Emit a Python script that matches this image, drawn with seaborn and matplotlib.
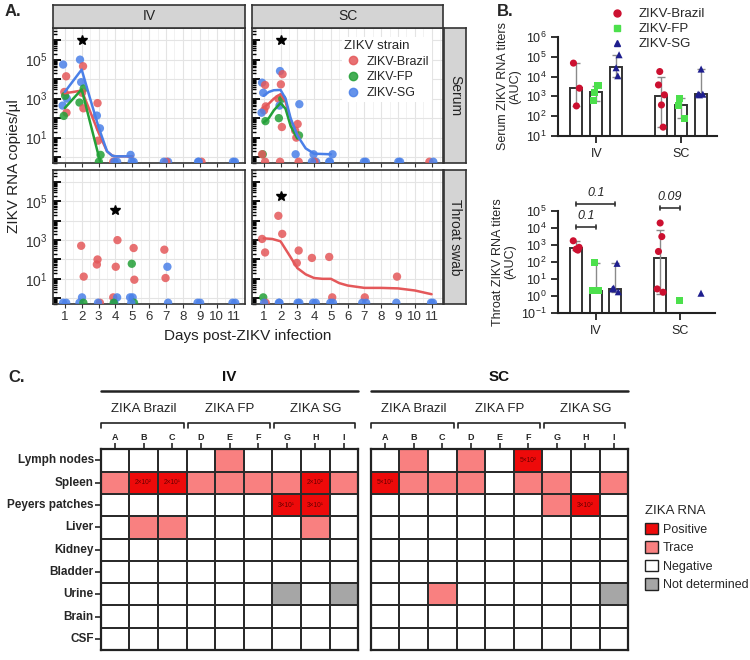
import numpy as np
import pandas as pd
import matplotlib
matplotlib.use('Agg')
import matplotlib.pyplot as plt
import seaborn as sns
from matplotlib.colors import ListedColormap
from matplotlib.patches import Patch
from matplotlib.lines import Line2D
from matplotlib.ticker import LogLocator, FuncFormatter, NullFormatter, MultipleLocator, NullLocator

# ---------------- data: panel A (RNA copies per day) ----------------
strains = ['ZIKV-Brazil', 'ZIKV-FP', 'ZIKV-SG']
code_name = {'R': 'ZIKV-Brazil', 'G': 'ZIKV-FP', 'B': 'ZIKV-SG'}

iv_serum_day = [1]*8 + [2]*7 + [3]*6 + [4]*3 + [5]*3 + [7]*3 + [9]*3 + [11]*2
iv_serum_strain = 'BRRBGBRG' + 'BRBGRGR' + 'RBBRGG' + 'RBB' + 'BBB' + 'BRB' + 'RBB' + 'BB'
iv_serum_val = [5.6e4, 1.4e4, 2200, 1000, 1400, 440, 190, 130,
                1e5, 4.6e4, 7000, 3300, 2000, 630, 320,
                590, 135, 30, 7, 1.3, 0,
                0, 0, 0, 1.3, 0, 0, 0, 0, 0, 0, 0, 0, 0, 0]

sc_serum_day = [1]*10 + [2]*9 + [3]*7 + [4]*4 + [5]*3 + [7]*2 + [9]*2 + [11]*2
sc_serum_strain = 'BRBRRBGGRR' + 'BRRRGBGRR' + 'BRRGRBR' + 'BBRB' + 'BBB' + 'BB' + 'BB' + 'RB'
sc_serum_val = [6600, 5000, 2000, 400, 250, 190, 70, 1.4, 1.4, 0,
                2.6e4, 1.8e4, 5400, 1000, 1000, 440, 100, 35, 0,
                520, 50, 23, 13, 10, 1.4, 0,
                1.4, 0, 0, 0, 1.4, 0, 0, 0, 0, 0, 0, 0, 0]

iv_throat_day = [1]*2 + [2]*5 + [3]*4 + [4]*6 + [5]*7 + [7]*4 + [9]*2 + [11]*2
iv_throat_strain = 'BB' + 'RRBBG' + 'RRRB' + 'RRRBBG' + 'RGRBBGB' + 'RBRB' + 'BB' + 'BB'
iv_throat_val = [0, 0,
                 510, 13, 1.1, 0, 0,
                 100, 55, 0, 0,
                 1000, 42, 1.1, 1.1, 0, 0,
                 390, 60, 9, 1.1, 1.1, 0, 0,
                 320, 42, 11, 0, 0, 0, 0, 0]

sc_throat_day = [1]*5 + [2]*4 + [3]*4 + [4]*3 + [5]*4 + [7]*3 + [9]*2 + [11]*2
sc_throat_strain = 'RRGRB' + 'RRBB' + 'RRBB' + 'RBB' + 'RRBB' + 'RBB' + 'RB' + 'BB'
sc_throat_val = [1150, 230, 1.1, 0, 0,
                 1.8e4, 2100, 0, 0,
                 290, 66, 0, 0,
                 120, 0, 0,
                 135, 1.1, 0, 0,
                 1.1, 0, 0, 13, 0, 0, 0]

# smoothed trend lines
fit_iv_serum_brazil_day = [1, 1.5, 2, 2.5, 3, 3.5, 3.8, 4, 5]
fit_iv_serum_brazil_val = [1900, 2200, 2600, 220, 18, 2.0, 1.2, 1.1, 1.1]
fit_iv_serum_fp_day = [1, 1.5, 2, 2.5, 3, 3.1]
fit_iv_serum_fp_val = [330, 1000, 3000, 60, 1.2, 0.6]
fit_iv_serum_sg_day = [1, 1.5, 2, 2.5, 3, 3.5, 3.8, 4, 5]
fit_iv_serum_sg_val = [2200, 8300, 3.1e4, 1000, 35, 2.0, 1.2, 1.1, 1.1]

fit_sc_serum_brazil_day = [1, 1.3, 1.6, 2, 2.3, 2.6, 3]
fit_sc_serum_brazil_val = [350, 550, 1000, 1700, 700, 80, 15]
fit_sc_serum_fp_day = [1, 1.3, 1.6, 2, 2.3, 2.6, 3]
fit_sc_serum_fp_val = [60, 100, 250, 600, 300, 40, 9]
fit_sc_serum_sg_day = [1, 1.3, 1.6, 2, 2.3, 2.6, 3, 3.5, 4, 5]
fit_sc_serum_sg_val = [1400, 2200, 2700, 2800, 1000, 100, 13, 2.8, 1.5, 1.4]

fit_sc_throat_brazil_day = [1, 1.5, 2, 2.5, 3, 3.5, 4, 4.5, 5, 5.5, 6, 7, 8, 9, 10, 11]
fit_sc_throat_brazil_val = [1230, 1150, 870, 180, 36, 17, 11, 10, 10, 6, 4.5, 3.4, 3.4, 3.2, 2.5, 1.6]

# significance stars (day, height)
star_iv_serum = (2, 1e6)
star_sc_serum = (2, 1e6)
star_iv_throat = (4, 3.5e4)
star_sc_throat = (2, 1.8e5)

# ---------------- data: panel B (AUC) ----------------
routes = ['IV', 'SC']
serum_bar = [2600, 1600, 3e4, 1100, 380, 1300]
serum_lo = [310, 620, 1e4, 28, 80, 1100]
serum_hi = [4.8e4, 3400, 1.27e5, 9300, 810, 2.4e4]
serum_pt_route = ['IV']*9 + ['SC']*12
serum_pt_strain = 'RRRGGGBBB' + 'RRRRRGGGBBBB'
serum_pt_val = [4.8e4, 2600, 330, 3400, 1500, 650, 1.27e5, 2.8e4, 1.1e4,
                1.8e4, 3800, 1200, 370, 28, 820, 330, 80, 2.4e4, 1300, 1200, 1300]

throat_bar = [650, 2, 2.5, 170, np.nan, np.nan]
throat_lo = [480, 2, 1.7, 1.2, np.nan, np.nan]
throat_hi = [1700, 85, 80, 7000, np.nan, np.nan]
throat_pt_route = ['IV']*12 + ['SC']*7
throat_pt_strain = 'RRRRGGGGBBBB' + 'RRRRRGB'
throat_pt_val = [1700, 700, 550, 480, 85, 2, 2, 2, 80, 2.8, 2.5, 1.7,
                 1.9e4, 3000, 400, 2.5, 1.6, 0.5, 1.4]
# (route, first bar, second bar, label, bracket height)
throat_sig = [('IV', 0, 1, '0.1', 1.1e4), ('IV', 0, 2, '0.1', 2.5e5), ('SC', 0, 1, '0.09', 1.4e5)]

# ---------------- data: panel C (tissue RNA) ----------------
tissues = ['Lymph nodes', 'Spleen', 'Peyers patches', 'Liver', 'Kidney',
           'Bladder', 'Urine', 'Brain', 'CSF']
animals = list('ABCDEFGHI')
groups = ['ZIKA Brazil', 'ZIKA FP', 'ZIKA SG']
# N negative, T trace, P positive, X not determined
iv_status = ['NNNNTNNNN', 'TPPTTTTPT', 'NNNNNNPPN', 'NTTNNNNTN', 'NNNNNNNNN',
             'NNNNNNNNN', 'NNNNNNXNX', 'NNNNNNNNN', 'NNNNNNNNN']
sc_status = ['NTNTNPNNN', 'PTTTNTTNT', 'NNNNNNTPN', 'NNNNNNNNN', 'NNNNNNNNN',
             'NNNNNNNNN', 'NNTNNNNNX', 'NNNNNNNNN', 'NNNNNNNNN']
iv_titer = {(1, 1): '2×10²', (1, 2): '2×10¹', (1, 7): '2×10²', (2, 6): '3×10¹', (2, 7): '3×10¹'}
sc_titer = {(0, 5): '5×10²', (1, 0): '5×10¹', (2, 7): '3×10²'}

# ---------------- style ----------------
sns.set_style('ticks')
plt.rcParams['font.family'] = ['Liberation Sans', 'DejaVu Sans']
plt.rcParams['mathtext.fontset'] = 'custom'
plt.rcParams['mathtext.rm'] = 'Liberation Sans'
plt.rcParams['mathtext.it'] = 'Liberation Sans:italic'
plt.rcParams['mathtext.bf'] = 'Liberation Sans:bold'

pal_a = {'ZIKV-Brazil': '#E4585A', 'ZIKV-FP': '#23A037', 'ZIKV-SG': '#4A80E8'}
pal_b = {'ZIKV-Brazil': '#CC1030', 'ZIKV-FP': '#4CE04C', 'ZIKV-SG': '#1E1E8E'}
mk_b = {'ZIKV-Brazil': 'o', 'ZIKV-FP': 's', 'ZIKV-SG': '^'}
LOD = 0.58
jit = [-0.1, 0.08, -0.03, 0.12, 0.02, -0.13, 0.1, -0.06]

W, H = 750, 660
fig = plt.figure(figsize=(7.5, 6.6), dpi=100)


def box(x0, y0, x1, y1):
    return [x0 / W, 1 - y1 / H, (x1 - x0) / W, (y1 - y0) / H]


def odd_decades(v, pos):
    e = int(round(np.log10(v)))
    return f'$10^{{{e}}}$' if e in (1, 3, 5) else ''


def timecourse(ax, day, code, val, fits, star, show_x, show_y):
    df = pd.DataFrame({'day': day, 'strain': [code_name[c] for c in code], 'value': val})
    df['y'] = df['value'].where(df['value'] > 0, LOD)
    df['x'] = df['day'] + [jit[i % len(jit)] for i in range(len(df))]
    ax.set_yscale('log')
    sns.scatterplot(data=df, x='x', y='y', hue='strain', hue_order=strains, palette=pal_a,
                    s=36, alpha=0.85, edgecolor='none', legend=False, ax=ax, zorder=3)
    if fits:
        fit_df = pd.concat([pd.DataFrame({'day': d, 'value': v, 'strain': s}) for d, v, s in fits])
        sns.lineplot(data=fit_df, x='day', y='value', hue='strain', palette=pal_a,
                     estimator=None, sort=False, lw=1.8, legend=False, ax=ax, zorder=4)
    ax.plot([star[0]], [star[1]], marker='*', color='k', ms=7, ls='none', zorder=5)
    ax.set_ylim(0.5, 4.2e6)
    ax.set_xlim(0.3, 11.68)
    ax.set_xticks(range(1, 12))
    ax.xaxis.set_minor_locator(MultipleLocator(0.5))
    ax.yaxis.set_major_locator(LogLocator(base=10, numticks=12))
    ax.yaxis.set_minor_locator(LogLocator(base=10, subs=np.arange(2, 10), numticks=12))
    ax.yaxis.set_major_formatter(FuncFormatter(odd_decades))
    ax.yaxis.set_minor_formatter(NullFormatter())
    ax.grid(which='major', color='#E4E4E4', lw=0.8)
    ax.grid(which='minor', axis='x', color='#F0F0F0', lw=0.6)
    ax.set_axisbelow(True)
    ax.tick_params(axis='y', which='major', direction='in', length=6, width=1.3, color='k',
                   labelsize=10, labelcolor='#333', pad=4, left=True, labelleft=show_y)
    ax.tick_params(axis='y', which='minor', direction='in', length=3, width=1, color='k', left=True)
    ax.tick_params(axis='x', which='major', direction='out', length=3, color='#333',
                   labelsize=9.5, labelcolor='#333', bottom=True, labelbottom=show_x, pad=2)
    ax.tick_params(axis='x', which='minor', length=0)
    ax.set_xlabel('')
    ax.set_ylabel('')
    for sp in ax.spines.values():
        sp.set_visible(True)
        sp.set_color('#333')
        sp.set_linewidth(1.2)


def strip(rect, text, rot=0):
    s = fig.add_axes(box(*rect))
    s.set_facecolor('#D4D4D4')
    s.set_xticks([])
    s.set_yticks([])
    for sp in s.spines.values():
        sp.set_visible(True)
        sp.set_color('#333')
        sp.set_linewidth(1.2)
    s.text(0.5, 0.5, text, rotation=rot, ha='center', va='center', fontsize=10, color='#222',
           transform=s.transAxes)


# ---------------- panel A ----------------
ax1 = fig.add_axes(box(53, 28, 245, 163))
timecourse(ax1, iv_serum_day, iv_serum_strain, iv_serum_val,
           [(fit_iv_serum_brazil_day, fit_iv_serum_brazil_val, 'ZIKV-Brazil'),
            (fit_iv_serum_fp_day, fit_iv_serum_fp_val, 'ZIKV-FP'),
            (fit_iv_serum_sg_day, fit_iv_serum_sg_val, 'ZIKV-SG')],
           star_iv_serum, False, True)
ax2 = fig.add_axes(box(252, 28, 443, 163))
timecourse(ax2, sc_serum_day, sc_serum_strain, sc_serum_val,
           [(fit_sc_serum_brazil_day, fit_sc_serum_brazil_val, 'ZIKV-Brazil'),
            (fit_sc_serum_fp_day, fit_sc_serum_fp_val, 'ZIKV-FP'),
            (fit_sc_serum_sg_day, fit_sc_serum_sg_val, 'ZIKV-SG')],
           star_sc_serum, False, False)
ax3 = fig.add_axes(box(53, 170, 245, 304))
timecourse(ax3, iv_throat_day, iv_throat_strain, iv_throat_val, [], star_iv_throat, True, True)
ax4 = fig.add_axes(box(252, 170, 443, 304))
timecourse(ax4, sc_throat_day, sc_throat_strain, sc_throat_val,
           [(fit_sc_throat_brazil_day, fit_sc_throat_brazil_val, 'ZIKV-Brazil')],
           star_sc_throat, True, False)

strip((53, 5, 245, 28), 'IV')
strip((252, 5, 443, 28), 'SC')
strip((444, 28, 466, 163), 'Serum', 270)
strip((444, 170, 466, 304), 'Throat swab', 270)

handles_a = [Line2D([], [], marker='o', ls='none', color=pal_a[s], ms=6, alpha=0.85) for s in strains]
leg = ax2.legend(handles_a, strains, title='ZIKV strain', loc='upper left',
                 bbox_to_anchor=(0.47, 0.93), fontsize=9, title_fontsize=9.5, frameon=True,
                 framealpha=1, edgecolor='none', handletextpad=0.4, labelspacing=0.3,
                 borderpad=0.2, borderaxespad=0.0, handlelength=1.4, alignment='left')
leg.set_zorder(10)

fig.text(14 / W, 1 - 166 / H, 'ZIKV RNA copies/µl', rotation=90, ha='center', va='center',
         fontsize=11, color='#222')
fig.text(248 / W, 1 - 336 / H, 'Days post-ZIKV infection', ha='center', va='center',
         fontsize=11, color='#222')


# ---------------- panel B ----------------
def auc_panel(ax, bar_vals, lo, hi, pt_route, pt_code, pt_val, ylim, ylabel):
    bars = pd.DataFrame({'route': np.repeat(routes, 3), 'strain': strains * 2, 'auc': bar_vals})
    sns.barplot(data=bars, x='route', y='auc', hue='strain', order=routes, hue_order=strains,
                palette={s: 'white' for s in strains}, edgecolor='#333', linewidth=1.4,
                width=0.7, gap=0.4, errorbar=None, legend=False, ax=ax)
    ax.set_yscale('log')
    slot = 0.7 / 3
    xs = [routes.index(r) + (strains.index(s) - 1) * slot for r, s in zip(bars['route'], bars['strain'])]
    b = np.array(bar_vals, dtype=float)
    ax.errorbar(xs, b, yerr=[b - np.array(lo), np.array(hi) - b], fmt='none', ecolor='#8a8a8a',
                elinewidth=1, capsize=3, capthick=1, zorder=3)
    pts = pd.DataFrame({'route': pt_route, 'strain': [code_name[c] for c in pt_code], 'value': pt_val})
    pts['x'] = [routes.index(r) + (strains.index(s) - 1) * slot + [-0.035, 0.035, 0.0, 0.02, -0.02][i % 5]
                for i, (r, s) in enumerate(zip(pts['route'], pts['strain']))]
    sns.scatterplot(data=pts, x='x', y='value', hue='strain', style='strain', hue_order=strains,
                    style_order=strains, palette=pal_b, markers=mk_b, s=26, edgecolor='none',
                    legend=False, ax=ax, zorder=4)
    ax.set_xlim(-0.45, 1.42)
    ax.set_ylim(*ylim)
    ax.set_xticks([0, 1])
    ax.set_xticklabels(routes)
    ax.yaxis.set_major_locator(LogLocator(base=10, numticks=12))
    ax.yaxis.set_minor_locator(NullLocator())
    ax.set_xlabel('')
    ax.set_ylabel(ylabel, fontsize=9, labelpad=3, linespacing=1.0)
    sns.despine(ax=ax)
    for sp in ('left', 'bottom'):
        ax.spines[sp].set_linewidth(1.5)
        ax.spines[sp].set_color('#222')
    ax.tick_params(axis='both', length=5, width=1.3, color='#222', labelsize=9, labelcolor='#222',
                   left=True, bottom=True)
    return xs


axb1 = fig.add_axes(box(558, 37, 717, 136))
auc_panel(axb1, serum_bar, serum_lo, serum_hi, serum_pt_route, serum_pt_strain, serum_pt_val,
          (10, 1e6), 'Serum ZIKV RNA titers\n(AUC)')
axb2 = fig.add_axes(box(558, 210.7, 715, 312.7))
xs_b = auc_panel(axb2, throat_bar, throat_lo, throat_hi, throat_pt_route, throat_pt_strain,
                 throat_pt_val, (0.1, 1e5), 'Throat ZIKV RNA titers\n(AUC)')
for r, i0, i1, lab, yb in throat_sig:
    x0 = xs_b[routes.index(r) * 3 + i0]
    x1 = xs_b[routes.index(r) * 3 + i1]
    kw = dict(color='#333', lw=1.2, clip_on=False)
    axb2.plot([x0, x1], [yb, yb], **kw)
    axb2.plot([x0, x0], [yb / 1.35, yb * 1.35], **kw)
    axb2.plot([x1, x1], [yb / 1.35, yb * 1.35], **kw)
    axb2.text((x0 + x1) / 2, yb * 1.9, lab, ha='center', va='bottom', fontsize=9, style='italic',
              color='#222', clip_on=False)

handles_b = [Line2D([], [], marker=mk_b[s], ls='none', color=pal_b[s], ms=5) for s in strains]
fig.legend(handles_b, strains, loc='upper left', bbox_to_anchor=(596 / W, 1 - 0 / H), frameon=False,
           fontsize=9.5, handletextpad=0.6, labelspacing=0.22, borderaxespad=0.2)

# ---------------- panel C ----------------
code_val = {'N': 0, 'T': 1, 'P': 2, 'X': 3}
cmap_c = ListedColormap(['white', '#F98080', '#EE0A0A', '#A6A6A6'])


def tissue_map(ax, status, titer, title, left):
    mat = pd.DataFrame([[code_val[c] for c in row] for row in status], index=tissues, columns=animals)
    lab = np.full(mat.shape, '', dtype=object)
    for (i, j), t in titer.items():
        lab[i, j] = t
    sns.heatmap(mat, ax=ax, cmap=cmap_c, vmin=-0.5, vmax=3.5, cbar=False, linewidths=1.1,
                linecolor='#2b2b2b', annot=lab, fmt='', annot_kws=dict(size=4.8, color='#6a0000'),
                xticklabels=animals, yticklabels=tissues if left else False)
    for sp in ax.spines.values():
        sp.set_visible(True)
        sp.set_linewidth(1.6)
        sp.set_color('#222')
    ax.xaxis.tick_top()
    ax.tick_params(axis='x', top=True, bottom=False, length=4, width=1.2, labelsize=6.5, pad=1)
    for t in ax.get_xticklabels():
        t.set_fontweight('bold')
        t.set_rotation(0)
    if left:
        ax.tick_params(axis='y', left=True, length=4, width=1.2, labelsize=8.5, pad=1)
        for t in ax.get_yticklabels():
            t.set_fontweight('bold')
            t.set_rotation(0)
    else:
        ax.tick_params(axis='y', left=False)
    ax.set_xlabel('')
    ax.set_ylabel('')
    kw = dict(color='#222', lw=1.2, clip_on=False)
    for k, g in enumerate(groups):
        a, b = 3 * k + (0.05 if k else 0.0), 3 * k + 2.9
        ax.plot([a, a, b, b], [-0.95, -1.19, -1.19, -0.95], **kw)
        ax.text(3 * k + 1.5, -1.55, g, ha='center', va='bottom', fontsize=9.5, color='#222')
    ax.plot([0, 9], [-2.63, -2.63], color='#222', lw=1.8, clip_on=False)
    ax.text(4.5, -2.95, title, ha='center', va='bottom', fontsize=11, fontweight='bold', color='#111')


axc1 = fig.add_axes(box(100.7, 449.3, 358.3, 650))
tissue_map(axc1, iv_status, iv_titer, 'IV', True)
axc2 = fig.add_axes(box(370.7, 449.3, 628.3, 650))
tissue_map(axc2, sc_status, sc_titer, 'SC', False)

handles_c = [Patch(facecolor=c, edgecolor='#222', lw=1) for c in ['#EE0A0A', '#F98080', 'white', '#A6A6A6']]
fig.legend(handles_c, ['Positive', 'Trace', 'Negative', 'Not determined'], title='ZIKA RNA',
           loc='upper left', bbox_to_anchor=(634 / W, 1 - 494 / H), frameon=False, fontsize=9,
           title_fontsize=9.5, handlelength=1.0, handleheight=1.0, handletextpad=0.4,
           labelspacing=0.45, alignment='left')

# panel letters
fig.text(5 / W, 1 - 12 / H, 'A.', fontsize=12, fontweight='bold', va='center')
fig.text(497 / W, 1 - 12 / H, 'B.', fontsize=12, fontweight='bold', va='center')
fig.text(8 / W, 1 - 378 / H, 'C.', fontsize=12, fontweight='bold', va='center')

fig.savefig('out.png', dpi=100)
